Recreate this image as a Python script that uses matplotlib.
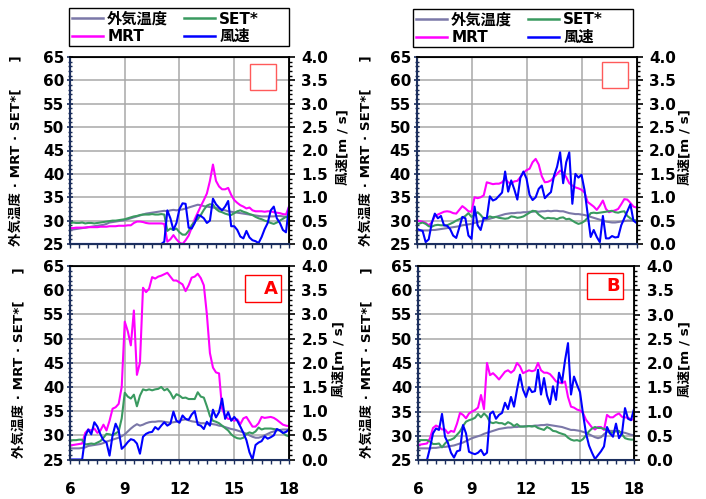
import numpy as np
import matplotlib
matplotlib.use("Agg")
import matplotlib.pyplot as plt
from matplotlib.patches import Rectangle
from matplotlib.ticker import MultipleLocator, FormatStrFormatter

plt.rcParams['font.family'] = ['DejaVu Sans', 'Noto Sans CJK JP']
plt.rcParams['font.weight'] = 'bold'

# 10-minute samples from 6:00 to 18:00
hours = 6 + np.arange(73) / 6.0

# ---- top-left panel ----
tl_air = [28.0, 28.1, 28.2, 28.3, 28.4, 28.5, 28.6, 28.7, 28.8, 28.9, 29.0, 29.1, 29.3,
          29.6, 29.7, 29.8, 29.9, 30.0, 30.1, 30.3, 30.5, 30.7, 30.9, 31.1, 31.3,
          31.5, 31.6, 31.7, 31.8, 31.9, 32.0, 32.1, 32.0, 32.2, 32.3, 32.2, 32.3,
          32.4, 32.6, 32.8, 33.0, 33.2, 33.4, 33.3, 33.1, 33.0, 32.9, 32.8, 32.7,
          32.5, 32.3, 32.2, 32.0, 31.9, 31.8, 31.7, 31.6, 31.5, 31.4, 31.3, 31.2,
          31.1, 31.0, 30.9, 30.9, 30.9, 30.9, 30.9, 31.0, 31.0, 30.9, 30.8, 30.8]
tl_set = [29.4, 29.6, 29.5, 29.5, 29.6, 29.4, 29.5, 29.5, 29.4, 29.5, 29.6, 29.7, 29.8,
          29.9, 30.0, 30.0, 30.1, 30.2, 30.3, 30.5, 30.7, 30.9, 31.0, 31.2, 31.3,
          31.3, 31.3, 31.4, 31.3, 31.3, 31.4, 31.3, 27.8, 28.3, 28.0, 28.3, 27.5,
          27.0, 27.0, 27.8, 29.0, 29.8, 30.3, 31.2, 32.3, 33.2, 33.5, 33.4, 32.5,
          32.0, 31.8, 31.5, 31.3, 31.2, 31.6, 32.0, 32.2, 31.9, 31.7, 31.4, 31.2,
          30.8, 30.5, 30.3, 30.0, 29.8, 29.5, 29.3, 29.6, 30.0, 30.4, 30.8, 31.0]
tl_mrt = [28.4, 28.4, 28.5, 28.5, 28.5, 28.5, 28.6, 28.6, 28.6, 28.6, 28.7, 28.7, 28.7,
          28.8, 28.8, 28.8, 28.9, 28.9, 28.9, 29.0, 29.0, 29.5, 29.8, 29.8, 29.7,
          29.5, 29.4, 29.4, 29.4, 29.4, 29.4, 29.3, 25.5, 26.0, 26.9, 26.0, 25.3,
          25.0, 25.8, 26.8, 28.5, 30.3, 31.7, 33.1, 34.4, 35.8, 38.5, 42.0, 38.5,
          37.3, 36.7, 36.7, 37.0, 35.5, 34.4, 33.8, 33.3, 33.0, 32.6, 32.8, 32.2,
          32.0, 32.0, 32.0, 31.9, 32.0, 32.0, 31.8, 31.7, 31.6, 31.4, 31.3, 33.0]
tl_wind = [0, 0, 0, 0, 0, 0, 0, 0, 0, 0, 0, 0, 0,
           0, 0, 0, 0, 0, 0, 0, 0, 0, 0, 0, 0,
           0, 0, 0, 0, 0, 0, 0.05, 0.72, 0.55, 0.30, 0.45, 0.75,
           0.87, 0.86, 0.35, 0.33, 0.45, 0.62, 0.60, 0.55, 0.45, 0.50, 0.97, 0.85,
           0.78, 0.72, 0.80, 0.92, 0.38, 0.38, 0.30, 0.16, 0.12, 0.28, 0.14, 0.08,
           0.06, 0.02, 0.15, 0.32, 0.45, 0.72, 0.80, 0.55, 0.45, 0.30, 0.25, 0.80]

# ---- top-right panel ----
tr_air = [27.9, 27.9, 27.9, 27.9, 27.9, 28.0, 28.0, 28.1, 28.2, 28.3, 28.4, 28.5, 28.6,
          28.7, 28.8, 29.0, 29.1, 29.2, 29.3, 29.5, 29.7, 29.9, 30.0, 30.2, 30.4,
          30.6, 30.8, 31.0, 31.2, 31.4, 31.5, 31.6, 31.6, 31.7, 31.7, 31.8, 31.8,
          31.9, 31.9, 32.0, 31.9, 32.0, 32.0, 32.1, 32.0, 32.1, 32.1, 32.0, 32.0,
          31.8, 31.6, 31.5, 31.4, 31.4, 31.3, 31.2, 31.0, 30.8, 30.6, 30.4, 30.2,
          30.0, 29.8, 29.7, 29.6, 29.6, 29.7, 29.8, 29.9, 30.0, 30.0, 30.0, 30.0]
tr_set = [29.1, 29.4, 29.6, 29.3, 28.8, 28.7, 29.0, 29.1, 29.0, 29.0, 29.0, 29.3, 29.6,
          30.0, 30.3, 30.6, 31.0, 31.6, 30.8, 31.2, 31.8, 31.2, 30.4, 30.6, 30.9,
          30.7, 30.8, 30.6, 30.5, 30.4, 30.5, 30.9, 30.8, 30.6, 30.7, 30.9, 31.3,
          31.7, 32.1, 32.0, 31.3, 30.8, 30.4, 30.6, 30.5, 30.5, 30.3, 30.6, 30.7,
          30.3, 30.4, 30.0, 29.6, 29.3, 29.5, 29.9, 30.6, 31.6, 31.7, 31.6, 31.7,
          31.8, 31.9, 32.0, 32.1, 31.8, 31.7, 31.9, 32.0, 31.0, 30.5, 30.1, 30.0]
tr_mrt = [30.1, 29.9, 29.8, 29.5, 29.0, 29.6, 31.0, 31.3, 31.6, 31.9, 32.0, 31.9, 31.6,
          31.5, 32.3, 33.1, 32.6, 32.0, 31.9, 35.0, 34.8, 35.0, 35.4, 38.2, 38.0,
          37.8, 37.9, 37.9, 38.2, 38.9, 38.2, 37.9, 38.4, 38.5, 39.3, 40.2, 40.8,
          41.1, 42.5, 43.2, 42.0, 39.5, 38.2, 38.3, 38.6, 39.3, 40.0, 40.7, 40.3,
          39.3, 38.0, 37.5, 37.1, 36.9, 36.6, 36.0, 34.0, 33.5, 33.0, 32.3, 33.2,
          34.3, 32.5, 31.8, 32.0, 32.2, 32.5, 33.5, 34.6, 34.5, 33.8, 33.0, 32.8]
tr_wind = [0.33, 0.30, 0.28, 0.04, 0.10, 0.45, 0.65, 0.55, 0.60, 0.40, 0.39, 0.32, 0.18,
           0.13, 0.35, 0.58, 0.55, 0.18, 0.11, 0.80, 0.40, 0.30, 0.56, 0.55, 1.02,
           0.93, 0.96, 1.03, 1.10, 1.55, 1.12, 1.36, 1.17, 0.95, 1.42, 1.55, 1.40,
           1.05, 0.94, 1.00, 1.18, 1.25, 0.98, 1.05, 1.11, 1.46, 1.65, 1.96, 1.30,
           1.75, 1.96, 0.86, 1.50, 1.42, 1.48, 1.15, 0.65, 0.15, 0.30, 0.15, 0.04,
           0.60, 0.12, 0.12, 0.17, 0.14, 0.15, 0.40, 0.55, 0.70, 0.85, 0.50, 0.45]

# ---- bottom-left panel (A) ----
bl_air = [27.3, 27.3, 27.3, 27.3, 27.4, 27.5, 27.8, 27.9, 28.0, 28.1, 28.2, 28.4, 28.7,
          28.9, 29.1, 29.3, 29.5, 29.8, 30.2, 30.8, 31.4, 31.9, 32.3, 32.0, 32.2,
          32.5, 32.7, 32.8, 32.8, 32.9, 32.9, 32.8, 32.7, 32.6, 32.7, 32.8, 33.0,
          33.2, 33.3, 33.1, 32.9, 32.8, 32.7, 32.5, 32.5, 32.4, 32.4, 32.3, 32.2,
          32.0, 31.9, 31.7, 31.5, 31.3, 31.2, 31.0, 30.8, 30.6, 30.3, 30.0, 29.7,
          29.5, 29.5, 29.7, 30.0, 30.3, 30.6, 30.8, 31.0, 31.1, 31.2, 31.2, 31.2]
bl_set = [28.9, 29.0, 29.0, 29.1, 29.1, 28.1, 28.2, 28.3, 28.2, 28.5, 28.8, 29.5, 30.3,
          30.2, 30.0, 30.4, 30.8, 33.5, 38.8, 38.0, 37.6, 38.4, 36.0, 38.2, 39.5,
          39.3, 39.5, 39.3, 39.5, 39.6, 40.0, 39.3, 39.6, 38.8, 37.6, 38.5, 38.2,
          37.7, 37.8, 37.5, 37.5, 37.5, 38.9, 38.0, 37.8, 36.0, 34.0, 33.0, 32.8,
          32.5, 32.0, 31.5, 31.0, 30.2, 29.7, 29.4, 29.3, 29.5, 30.3, 30.6, 30.4,
          30.8, 31.6, 31.2, 31.4, 31.4, 31.4, 31.3, 31.2, 31.0, 30.5, 30.0, 29.8]
bl_mrt = [27.9, 28.0, 28.1, 28.2, 28.3, 30.5, 31.2, 31.0, 31.4, 30.5, 31.0, 32.2, 31.0,
          33.0, 35.5, 35.8, 36.5, 40.0, 53.5, 51.5, 48.6, 55.8, 42.5, 45.0, 60.5,
          59.6, 60.3, 62.7, 62.4, 62.8, 63.0, 63.3, 63.6, 62.8, 62.0, 62.0, 61.6,
          61.2, 59.8, 61.0, 62.6, 62.8, 63.4, 62.5, 61.0, 55.0, 47.0, 44.0, 43.0,
          42.8, 35.5, 34.0, 33.4, 33.4, 33.0, 33.3, 32.3, 33.5, 33.8, 32.8, 31.8,
          31.8, 32.5, 33.8, 33.6, 33.7, 33.8, 33.6, 33.2, 32.7, 32.2, 32.0, 31.9]
bl_wind = [0, 0, 0, 0, 0, 0.48, 0.62, 0.52, 0.77, 0.68, 0.52, 0.40, 0.35,
           0.08, 0.50, 0.74, 0.60, 0.22, 0.28, 0.36, 0.42, 0.40, 0.33, 0.12, 0.47,
           0.53, 0.56, 0.57, 0.67, 0.62, 0.70, 0.77, 0.70, 0.74, 0.99, 0.80, 0.76,
           0.91, 0.84, 0.82, 0.93, 1.00, 0.72, 0.70, 0.63, 0.78, 0.70, 1.03, 0.87,
           0.98, 1.26, 0.84, 0.98, 0.80, 0.88, 0.80, 0.68, 0.55, 0.40, 0.15, 0.0,
           0.30, 0.35, 0.38, 0.48, 0.43, 0.46, 0.50, 0.63, 0.60, 0.55, 0.57, 0.62]

# ---- bottom-right panel (B) ----
br_air = [27.4, 27.4, 27.4, 27.4, 27.4, 27.5, 27.5, 27.6, 27.7, 27.7, 27.8, 27.9, 28.0,
          28.2, 28.4, 28.6, 28.9, 29.2, 29.5, 29.7, 29.9, 30.1, 30.4, 30.6, 30.8,
          31.0, 31.2, 31.4, 31.5, 31.6, 31.7, 31.7, 31.8, 31.8, 31.9, 31.9, 32.0,
          32.0, 32.0, 32.1, 32.1, 32.2, 32.2, 32.3, 32.2, 32.1, 32.0, 31.9, 31.8,
          31.6, 31.4, 31.2, 31.2, 31.1, 31.0, 30.8, 30.6, 30.3, 30.0, 29.7, 29.5,
          29.7, 30.3, 30.8, 31.0, 31.0, 30.9, 30.8, 30.7, 30.6, 30.4, 30.2, 30.1]
br_set = [29.1, 29.1, 29.1, 29.1, 28.8, 28.3, 28.3, 28.4, 27.6, 28.4, 29.0, 29.2, 29.5,
          30.2, 30.9, 32.0, 32.9, 33.2, 33.4, 33.7, 34.5, 33.8, 34.6, 34.0, 32.8,
          32.6, 32.8, 32.6, 32.6, 32.3, 32.8, 32.5, 32.0, 32.4, 31.9, 31.9, 31.9,
          32.0, 31.9, 32.0, 31.6, 31.4, 31.2, 31.8, 31.5, 31.0, 30.9, 30.6, 30.4,
          30.2, 29.6, 29.2, 29.0, 29.1, 28.9, 29.3, 30.1, 30.9, 31.5, 31.8, 31.6,
          31.6, 31.4, 31.2, 30.5, 30.7, 31.0, 31.0, 30.3, 29.5, 29.3, 29.2, 29.2]
br_mrt = [28.1, 28.2, 28.3, 28.4, 29.5, 31.6, 32.1, 31.8, 31.3, 31.3, 30.5, 31.0, 30.8,
          32.5, 34.7, 34.3, 33.6, 34.6, 35.0, 35.3, 35.8, 38.4, 35.5, 45.0, 42.5,
          42.9, 42.3, 41.6, 42.4, 43.2, 43.5, 43.0, 43.5, 45.0, 44.3, 42.9, 43.2,
          43.5, 43.3, 43.5, 45.0, 43.5, 43.0, 43.0, 42.7, 42.0, 41.2, 41.0, 40.8,
          41.2, 38.0, 36.0, 35.8, 35.4, 35.2, 34.7, 33.3, 32.5, 31.7, 31.3, 31.8,
          31.8, 31.2, 34.3, 33.8, 33.8, 34.3, 34.6, 33.9, 33.8, 33.7, 33.4, 33.3]
br_wind = [0, 0, 0, 0, 0.25, 0.55, 0.65, 0.62, 0.95, 0.48, 0.35, 0.15, 0.05,
           0.18, 0.20, 0.72, 0.55, 0.17, 0.14, 0.12, 0.15, 0.21, 0.10, 0.15, 0.95,
           1.00, 0.85, 0.93, 0.97, 1.18, 1.05, 1.30, 1.10, 1.45, 1.76, 1.45, 1.30,
           1.50, 1.40, 1.42, 1.86, 1.35, 1.69, 1.33, 1.15, 1.52, 1.24, 1.80, 1.60,
           2.05, 2.41, 1.35, 1.72, 1.55, 1.40, 0.95, 0.55, 0.30, 0.15, 0.02, 0.10,
           0.18, 0.28, 0.68, 0.55, 0.48, 0.75, 0.45, 0.55, 1.07, 0.85, 0.82, 1.05]

labels = ['外気温度', 'MRT', 'SET*', '風速']
colors = ['#7b78a8', '#ff00ff', '#3a9a60', '#0000ff']
ylabel_left = '外気温度 · MRT · SET*[\u3000\u3000]'
ylabel_right = '風速[m / s]'

W, H = 706, 499
fig = plt.figure(figsize=(W / 100, H / 100), dpi=100)
NAVY = '#1c2f5e'


def px_rect(x0, y0, x1, y1):
    # pixel box (top-left origin) -> figure fraction rect
    return [x0 / W, 1 - y1 / H, (x1 - x0) / W, (y1 - y0) / H]


def panel(rect, air, setv, mrt, wind, show_x, lab_l, lab_r):
    ax = fig.add_axes(rect)
    ax2 = ax.twinx()
    ax.plot(hours, air, color=colors[0], lw=1.5)
    ax.plot(hours, mrt, color=colors[1], lw=1.5)
    ax.plot(hours, setv, color=colors[2], lw=1.5)
    ax2.plot(hours, wind, color=colors[3], lw=1.5)
    ax.set_xlim(6, 18)
    ax.set_ylim(25, 65)
    ax2.set_ylim(0, 4)
    ax.xaxis.set_major_locator(MultipleLocator(3))
    ax.xaxis.set_minor_locator(MultipleLocator(0.5))
    ax.yaxis.set_major_locator(MultipleLocator(5))
    ax.yaxis.set_minor_locator(MultipleLocator(1))
    ax2.yaxis.set_major_locator(MultipleLocator(0.5))
    ax2.yaxis.set_minor_locator(MultipleLocator(0.1))
    ax2.yaxis.set_major_formatter(FormatStrFormatter('%.1f'))
    ax.grid(True, which='major', color='#a8a8a8', lw=1.1)
    ax.set_axisbelow(True)
    ax.tick_params(axis='y', which='major', direction='inout', length=5, width=1.2,
                   labelsize=11, pad=1.5, colors=NAVY, labelcolor='black')
    ax.tick_params(axis='y', which='minor', direction='inout', length=3.5, width=1,
                   colors=NAVY)
    ax.tick_params(axis='x', which='both', direction='out', length=3, width=1,
                   labelsize=11, pad=13, colors=NAVY, labelcolor='black')
    ax2.tick_params(axis='y', which='major', direction='out', length=4, width=1.2,
                    labelsize=11, pad=5)
    ax2.tick_params(axis='y', which='minor', direction='out', length=2.5, width=1)
    if not show_x:
        ax.set_xticklabels([])
    for s in ('left', 'bottom'):
        ax2.spines[s].set_color(NAVY)
        ax2.spines[s].set_linewidth(1.5)
    for s in ('right', 'top'):
        ax2.spines[s].set_color('black')
        ax2.spines[s].set_linewidth(1.3)
    ax.set_ylabel(ylabel_left, fontsize=9.7, fontweight='bold')
    ax.yaxis.set_label_coords(lab_l, 0.5)
    ax2.set_ylabel(ylabel_right, fontsize=9.7, fontweight='bold')
    ax2.yaxis.set_label_coords(lab_r, 0.52)
    return ax


ax_tl = panel(px_rect(70, 57, 289, 244), tl_air, tl_set, tl_mrt, tl_wind, False, -0.215, 1.215)
ax_tr = panel(px_rect(416.5, 57, 636.5, 244), tr_air, tr_set, tr_mrt, tr_wind, False, -0.202, 1.19)
ax_bl = panel(px_rect(70, 266, 289, 459.5), bl_air, bl_set, bl_mrt, bl_wind, True, -0.205, 1.20)
ax_br = panel(px_rect(418, 266, 634, 460), br_air, br_set, br_mrt, br_wind, True, -0.208, 1.204)

# legends above the top panels: frameless legend + drawn frame
handles = [plt.Line2D([], [], color=c, lw=1.8) for c in colors]
for x0, x1, y0, y1 in [(69, 289, 8, 46), (413, 633, 9, 47)]:
    fig.patches.append(Rectangle((x0 / W, 1 - y1 / H), (x1 - x0) / W, (y1 - y0) / H,
                                 transform=fig.transFigure, fill=False,
                                 edgecolor='black', lw=1.0))
    fig.legend(handles, labels, ncol=2, loc='upper left',
               bbox_to_anchor=((x0 + 3) / W, 1 - (y0 + 3.5) / H),
               fontsize=11, frameon=False, borderpad=0, labelspacing=0.18,
               handlelength=2.0, handletextpad=0.3, columnspacing=1.05,
               borderaxespad=0)

# red marker boxes
boxes = [(250, 64, 276, 90, '', '#ff5a5a'), (602, 62, 628, 88, '', '#ff5a5a'),
         (245, 275, 281, 302, 'A', 'red'), (587, 273, 623, 299, 'B', 'red')]
for x0, y0, x1, y1, txt, col in boxes:
    fig.patches.append(Rectangle((x0 / W, 1 - y1 / H), (x1 - x0) / W, (y1 - y0) / H,
                                 transform=fig.transFigure, fill=True, facecolor='white',
                                 edgecolor=col, lw=1.0, zorder=5))
    if txt:
        fig.text((x1 - 3) / W, 1 - (y0 + y1) / 2 / H, txt, color='red', fontsize=13,
                 fontweight='bold', ha='right', va='center', zorder=6)

fig.savefig('out.png', dpi=100)
